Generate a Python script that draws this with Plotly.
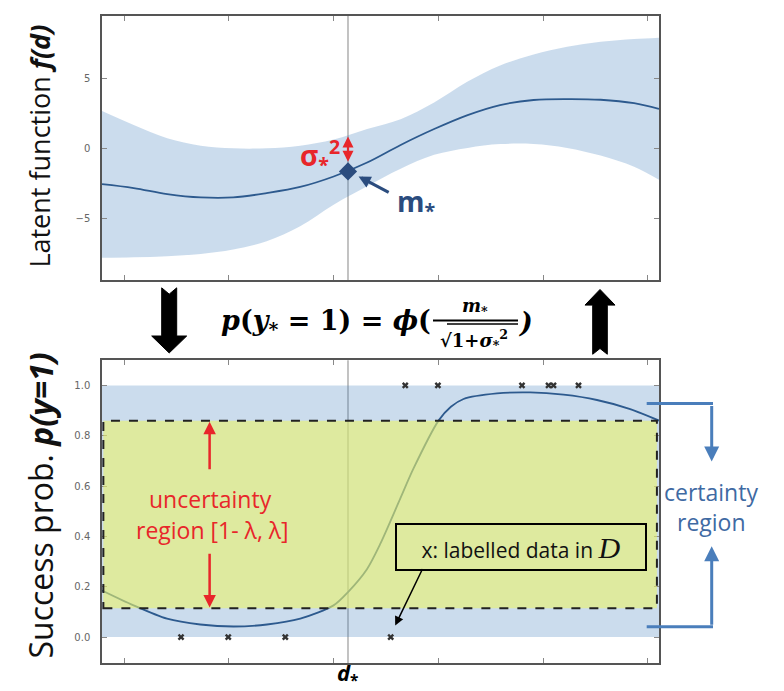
import plotly.graph_objects as go

# ---------------- data ----------------
x_top = [-0.213, 0.09, 0.41, 0.73, 1.04, 1.36, 1.68, 2.0, 2.32, 2.64, 2.96, 3.28, 3.59, 3.91, 4.23, 4.55, 4.87, 5.108]
mean_top = [-2.55, -2.83, -3.26, -3.5, -3.5, -3.19, -2.75, -2.0, -1.0, 0.26, 1.4, 2.4, 3.12, 3.48, 3.55, 3.5, 3.25, 2.84]
upper_top = [2.69, 1.69, 0.74, 0.21, 0.02, 0.02, 0.2, 0.65, 1.4, 2.1, 3.3, 4.8, 5.95, 6.75, 7.3, 7.65, 7.85, 7.95]
lower_top = [-7.83, -7.79, -7.71, -7.55, -7.24, -6.64, -5.57, -4.02, -2.7, -1.45, -0.45, 0.05, 0.32, 0.33, 0.05, -0.5, -1.3, -2.24]

x_bot = [-0.213, 0.089, 0.408, 0.726, 1.044, 1.363, 1.681, 1.999, 2.137, 2.318, 2.445, 2.636, 2.763, 3.002, 3.12, 3.241, 3.56, 3.878, 4.196, 4.515, 4.833, 5.11]
p_bot = [0.185, 0.126, 0.073, 0.05, 0.042, 0.05, 0.073, 0.126, 0.179, 0.27, 0.37, 0.55, 0.67, 0.86, 0.915, 0.946, 0.968, 0.972, 0.963, 0.942, 0.906, 0.86]

x_neg = [0.542, 0.993, 1.538, 2.545]
y_neg = [0, 0, 0, 0]
x_pos = [2.684, 2.996, 3.799, 4.053, 4.100, 4.339]
y_pos = [1, 1, 1, 1, 1, 1]

d_star = 2.137
m_star = -1.64
lam_low, lam_high = 0.115, 0.86

x_ticks = [0, 1, 2, 3, 4, 5]
top_ticks = [-5, 0, 5]
top_tick_text = ["\u22125", "0", "5"]
bot_ticks = [0, 0.2, 0.4, 0.6, 0.8, 1.0]
bot_tick_text = ["0.0", "0.2", "0.4", "0.6", "0.8", "1.0"]

# ---------------- geometry helpers ----------------
OFF = 8  # page body margin
W, H = 784 - OFF, 691 - OFF
ML, MR, MT, MB = 102 - OFF, 125, 14 - OFF, 28
PW, PH = W - ML - MR, H - MT - MB
X0, Y1 = ML + OFF, MT + OFF + PH  # screen px of plot left / bottom


def PX(px):
    return (px - X0) / PW


def PY(py):
    return (Y1 - py) / PH


BLUE = "#2d5a8e"
BAND = "rgba(70,130,190,0.28)"
RED = "#e8262a"
CBLUE = "#4a7ebb"
DARK = "#2b4c7e"

fig = go.Figure()

# top band + mean
fig.add_trace(go.Scatter(x=x_top, y=lower_top, mode="lines", line=dict(width=0, shape="spline"),
                         xaxis="x", yaxis="y", showlegend=False, hoverinfo="skip"))
fig.add_trace(go.Scatter(x=x_top, y=upper_top, mode="lines", line=dict(width=0, shape="spline"),
                         fill="tonexty", fillcolor=BAND, xaxis="x", yaxis="y", showlegend=False, hoverinfo="skip"))
fig.add_trace(go.Scatter(x=x_top, y=mean_top, mode="lines", line=dict(color=BLUE, width=1.8, shape="spline"),
                         xaxis="x", yaxis="y", showlegend=False))
fig.add_trace(go.Scatter(x=[d_star], y=[m_star], mode="markers",
                         marker=dict(symbol="diamond", size=14, color=DARK),
                         xaxis="x", yaxis="y", showlegend=False))

# bottom curve + data
fig.add_trace(go.Scatter(x=x_bot, y=p_bot, mode="lines",
                         line=dict(color=BLUE, width=1.8, shape="spline", smoothing=0.8),
                         xaxis="x2", yaxis="y2", showlegend=False))
fig.add_trace(go.Scatter(x=x_neg + x_pos, y=y_neg + y_pos, mode="markers",
                         marker=dict(symbol="x", size=6, color="#333"),
                         xaxis="x2", yaxis="y2", showlegend=False))

axis_common = dict(showline=True, linecolor="#555", linewidth=1.5, mirror="ticks", ticks="inside",
                   ticklen=5, tickcolor="#888", showgrid=False, zeroline=False, ticklabelstandoff=8,
                   tickfont=dict(family="DejaVu Sans", size=10, color="#666"))

fig.update_layout(
    width=W, height=H, margin=dict(l=ML, r=MR, t=MT, b=MB),
    paper_bgcolor="white", plot_bgcolor="white",
    xaxis=dict(domain=[0, 1], range=[-0.213, 5.108], tickvals=x_ticks, showticklabels=False,
               anchor="y", **axis_common),
    yaxis=dict(domain=[PY(279), 1.0], range=[-9.43, 9.5], tickvals=top_ticks, ticktext=top_tick_text,
               anchor="x", **axis_common),
    xaxis2=dict(domain=[0, 1], range=[-0.213, 5.108], tickvals=x_ticks, showticklabels=False,
                anchor="y2", **axis_common),
    yaxis2=dict(domain=[0, PY(359.3)], range=[-0.103, 1.10], tickvals=bot_ticks, ticktext=bot_tick_text,
                anchor="x2", **axis_common),
)

shapes = []
# d* vertical lines
shapes.append(dict(type="line", xref="x", yref="y domain", x0=d_star, x1=d_star, y0=0, y1=1,
                   line=dict(color="#9a9a9a", width=1.2), layer="below"))
shapes.append(dict(type="line", xref="x2", yref="y2 domain", x0=d_star, x1=d_star, y0=0, y1=1,
                   line=dict(color="#9a9a9a", width=1.2), layer="below"))
# bottom band 0..1
shapes.append(dict(type="rect", xref="x2 domain", yref="y2", x0=0, x1=1, y0=0, y1=1,
                   fillcolor=BAND, line=dict(width=0), layer="below"))
# uncertainty region rect
shapes.append(dict(type="rect", xref="x2", yref="y2", x0=-0.2, x1=5.088, y0=lam_low, y1=lam_high,
                   fillcolor="rgba(235,243,107,0.6)", line=dict(color="#222", width=2, dash="dash"),
                   layer="above"))
# fraction bars
shapes.append(dict(type="line", xref="paper", yref="paper", x0=PX(433), x1=PX(518), y0=PY(319.5), y1=PY(319.5),
                   line=dict(color="black", width=2)))
shapes.append(dict(type="line", xref="paper", yref="paper", x0=PX(447), x1=PX(518), y0=PY(323), y1=PY(323),
                   line=dict(color="black", width=1.5)))


def poly(pts):
    return "M " + " L ".join(f"{PX(a):.5f},{PY(b):.5f}" for a, b in pts) + " Z"


# block arrows
down_pts = [(161.7, 286.7), (169.2, 293), (176.7, 286.7), (176.7, 335), (186.7, 335), (169.2, 352),
            (151.7, 335), (161.7, 335)]
up_pts = [(600, 288.3), (615, 304), (607.3, 304), (607.3, 353.3), (600, 347.5), (592.7, 353.3),
          (592.7, 304), (585, 304)]
for pts in (down_pts, up_pts):
    shapes.append(dict(type="path", xref="paper", yref="paper", path=poly(pts),
                       fillcolor="black", line=dict(color="black", width=1)))

# certainty brackets (horizontal parts)
for yy in (402.7, 626.7):
    shapes.append(dict(type="line", xref="paper", yref="paper", x0=PX(646.7), x1=PX(713), y0=PY(yy), y1=PY(yy),
                       line=dict(color=CBLUE, width=3)))

fig.update_layout(shapes=shapes)

ann = []
SANS = "Open Sans"
SERIF = "DejaVu Serif"
# axis titles
ann.append(dict(xref="paper", yref="paper", x=PX(40), y=PY(145), text="Latent function <b><i>f(d)</i></b>",
                textangle=-90, showarrow=False, font=dict(family=SANS, size=27, color="#111"),
                xanchor="center", yanchor="middle"))
ann.append(dict(xref="paper", yref="paper", x=PX(40), y=PY(505), text="Success prob. <b><i>p(y=1)</i></b>",
                textangle=-90, showarrow=False, font=dict(family=SANS, size=32, color="#111"),
                xanchor="center", yanchor="middle"))
# sigma arrow and text
ann.append(dict(xref="x", yref="y", x=d_star, y=0.86, axref="x", ayref="y", ax=d_star, ay=-1.05,
                text="", showarrow=True, arrowhead=2, startarrowhead=2, arrowside="end+start",
                arrowsize=1, arrowwidth=2.2, arrowcolor=RED))
ann.append(dict(xref="paper", yref="paper", x=PX(342), y=PY(154), xanchor="right", yanchor="middle",
                text="<b>\u03c3<sub>*</sub><sup>2</sup></b>", showarrow=False,
                font=dict(family=SANS, size=28, color=RED)))
# m* arrow and text
ann.append(dict(xref="x", yref="y", x=2.238, y=-2.0, axref="x", ayref="y", ax=2.54, ay=-3.19,
                text="", showarrow=True, arrowhead=2, arrowsize=0.8, arrowwidth=3, arrowcolor=DARK))
ann.append(dict(xref="paper", yref="paper", x=PX(395), y=PY(202), xanchor="left", yanchor="middle",
                text="<b>m<sub>*</sub></b>", showarrow=False, font=dict(family=SANS, size=28, color=DARK)))
# formula
ann.append(dict(xref="paper", yref="paper", x=PX(433), y=PY(321), xanchor="right", yanchor="middle",
                text="<b><i>p</i>(<i>y</i><sub>*</sub> = 1) = <i>\u03d5</i>(</b>", showarrow=False,
                font=dict(family=SERIF, size=27, color="black")))
ann.append(dict(xref="paper", yref="paper", x=PX(475), y=PY(306), xanchor="center", yanchor="middle",
                text="<b><i>m</i><sub>*</sub></b>", showarrow=False,
                font=dict(family=SERIF, size=18, color="black")))
ann.append(dict(xref="paper", yref="paper", x=PX(474), y=PY(339), xanchor="center", yanchor="middle",
                text="<b>\u221a1+<i>\u03c3</i><sub>*</sub><sup>2</sup></b>", showarrow=False,
                font=dict(family=SERIF, size=18, color="black")))
ann.append(dict(xref="paper", yref="paper", x=PX(516), y=PY(321), xanchor="left", yanchor="middle",
                text="<b><i>)</i></b>", showarrow=False, font=dict(family=SERIF, size=27, color="black")))
# uncertainty region
ann.append(dict(xref="x2", yref="y2", x=0.815, y=0.856, axref="x2", ayref="y2", ax=0.815, ay=0.661,
                text="", showarrow=True, arrowhead=2, arrowsize=1, arrowwidth=2.5, arrowcolor=RED))
ann.append(dict(xref="x2", yref="y2", x=0.815, y=0.118, axref="x2", ayref="y2", ax=0.815, ay=0.337,
                text="", showarrow=True, arrowhead=2, arrowsize=1, arrowwidth=2.5, arrowcolor=RED))
ann.append(dict(xref="paper", yref="paper", x=PX(210), y=PY(498), text="uncertainty", showarrow=False,
                font=dict(family=SANS, size=23, color=RED), xanchor="center", yanchor="middle"))
ann.append(dict(xref="paper", yref="paper", x=PX(212), y=PY(530), text="region [1- \u03bb, \u03bb]",
                showarrow=False, font=dict(family=SANS, size=23, color=RED), xanchor="center", yanchor="middle"))
# certainty region
ann.append(dict(xref="paper", yref="paper", x=PX(711.7), y=PY(461), ax=0, ay=-57, text="", showarrow=True,
                arrowhead=2, arrowsize=1, arrowwidth=3, arrowcolor=CBLUE))
ann.append(dict(xref="paper", yref="paper", x=PX(711.7), y=PY(546), ax=0, ay=80, text="", showarrow=True,
                arrowhead=2, arrowsize=1, arrowwidth=3, arrowcolor=CBLUE))
ann.append(dict(xref="paper", yref="paper", x=PX(711), y=PY(491), text="certainty", showarrow=False,
                font=dict(family=SANS, size=23, color="#3f6aa3"), xanchor="center", yanchor="middle"))
ann.append(dict(xref="paper", yref="paper", x=PX(711), y=PY(522), text="region", showarrow=False,
                font=dict(family=SANS, size=23, color="#3f6aa3"), xanchor="center", yanchor="middle"))
# labelled data box
ann.append(dict(xref="paper", yref="paper", x=PX(521), y=PY(546.7), xanchor="center", yanchor="middle",
                text="x: labelled data in <span style='font-family:Liberation Serif;font-size:30px'><i>D</i></span>",
                showarrow=False, font=dict(family=SANS, size=21, color="#111"),
                width=248, height=44, borderwidth=2, bordercolor="black", borderpad=0))
ann.append(dict(xref="x2", yref="y2", x=2.588, y=0.046, ax=28, ay=-58, text="", showarrow=True,
                arrowhead=2, arrowsize=1.2, arrowwidth=1.5, arrowcolor="black"))
# d* label
ann.append(dict(xref="paper", yref="paper", x=PX(347), y=PY(674), text="<b><i>d</i><sub>*</sub></b>",
                showarrow=False, font=dict(family=SANS, size=22, color="black"),
                xanchor="center", yanchor="middle"))

fig.update_layout(annotations=ann)

fig.write_html("out.html")
